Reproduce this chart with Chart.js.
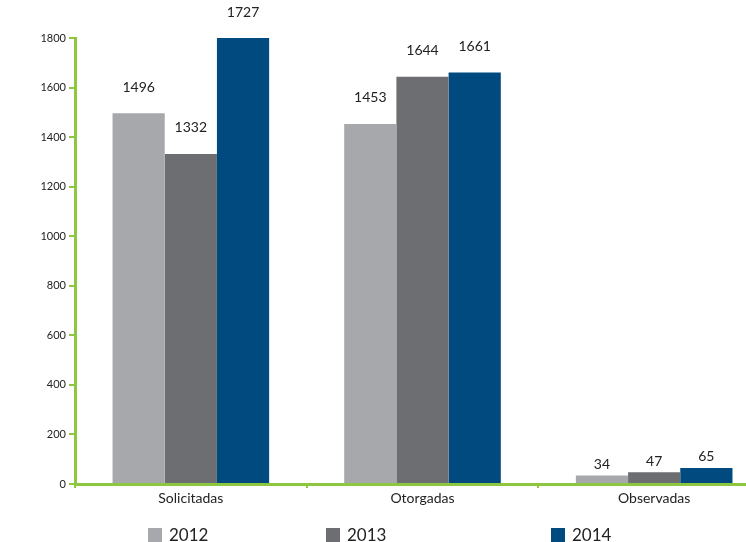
<!DOCTYPE html>
<html>
<head>
<meta charset="utf-8">
<script src="https://cdn.jsdelivr.net/npm/chart.js@4/dist/chart.umd.min.js"></script>
<style>
  html, body { margin: 0; padding: 0; background: #fff; overflow: hidden; }
  #wrap { position: relative; width: 746px; height: 542px; overflow: hidden; }
  #chart { position: absolute; left: 0; top: 0; }
  .leg { position: absolute; top: 524px; font: 17px Lato, "Open Sans", sans-serif; color: #222; display: flex; align-items: center; }
  .leg i { display: inline-block; width: 14px; height: 14px; margin-right: 7px; }
</style>
</head>
<body>
<div id="wrap">
  <canvas id="chart" width="775" height="542"></canvas>
  <div class="leg" style="left:148px"><i style="background:#a7a8ab"></i>2012</div>
  <div class="leg" style="left:326px"><i style="background:#6d6e72"></i>2013</div>
  <div class="leg" style="left:551px"><i style="background:#004a7f"></i>2014</div>
</div>
<script>
  // categories + series (bar heights as drawn; text labels as printed)
  const categories = ["Solicitadas", "Otorgadas", "Observadas"];
  const years = ["2012", "2013", "2014"];
  const v2012 = [1496, 1453, 34];
  const v2013 = [1332, 1644, 47];
  const v2014 = [1800, 1661, 65];
  const t2012 = ["1496", "1453", "34"];
  const t2013 = ["1332", "1644", "47"];
  const t2014 = ["1727", "1661", "65"];
  const yTicks = [0, 200, 400, 600, 800, 1000, 1200, 1400, 1600, 1800];

  const COLORS = ["#a7a8ab", "#6d6e72", "#004a7f"];
  const GREEN = "#8dc63f";
  const FONT = "Lato, 'Open Sans', sans-serif";

  const labelTexts = [t2012, t2013, t2014];

  /* value labels above bars */
  const valueLabels = {
    id: "valueLabels",
    afterDatasetsDraw(chart) {
      const ctx = chart.ctx;
      ctx.save();
      ctx.font = "14px " + FONT;
      ctx.fillStyle = "#222";
      ctx.textAlign = "center";
      ctx.textBaseline = "middle";
      chart.data.datasets.forEach((ds, di) => {
        const meta = chart.getDatasetMeta(di);
        meta.data.forEach((bar, i) => {
          const off = ds.data[i] > 200 ? 26 : 11;
          ctx.fillText(labelTexts[di][i], bar.x, bar.y - off);
        });
      });
      ctx.restore();
    }
  };

  const chart = new Chart(document.getElementById("chart"), {
    type: "bar",
    data: {
      labels: categories,
      datasets: [
        { label: years[0], data: v2012, backgroundColor: COLORS[0] },
        { label: years[1], data: v2013, backgroundColor: COLORS[1] },
        { label: years[2], data: v2014, backgroundColor: COLORS[2] }
      ]
    },
    options: {
      responsive: false,
      animation: false,
      events: [],
      layout: { padding: { top: 38, right: 5, left: 0, bottom: 0 } },
      datasets: { bar: { categoryPercentage: 0.676, barPercentage: 1.0 } },
      plugins: { legend: { display: false }, tooltip: { enabled: false } },
      scales: {
        x: {
          grid: { drawOnChartArea: false, color: GREEN, lineWidth: 2, tickLength: 4, offset: true },
          border: { color: GREEN, width: 3 },
          ticks: { color: "#222", font: { size: 14, family: FONT }, padding: 2 },
          afterFit: s => { s.height = 58; }
        },
        y: {
          min: 0,
          max: 1800,
          afterBuildTicks: s => { s.ticks = yTicks.map(v => ({ value: v })); },
          grid: { drawOnChartArea: false, color: GREEN, lineWidth: 2, tickLength: 6 },
          border: { color: GREEN, width: 3 },
          ticks: {
            color: "#222",
            font: { size: 11, family: FONT },
            padding: 3,
            callback: v => String(v)
          },
          afterFit: s => { s.width = 75; }
        }
      }
    },
    plugins: [valueLabels]
  });
</script>
</body>
</html>
